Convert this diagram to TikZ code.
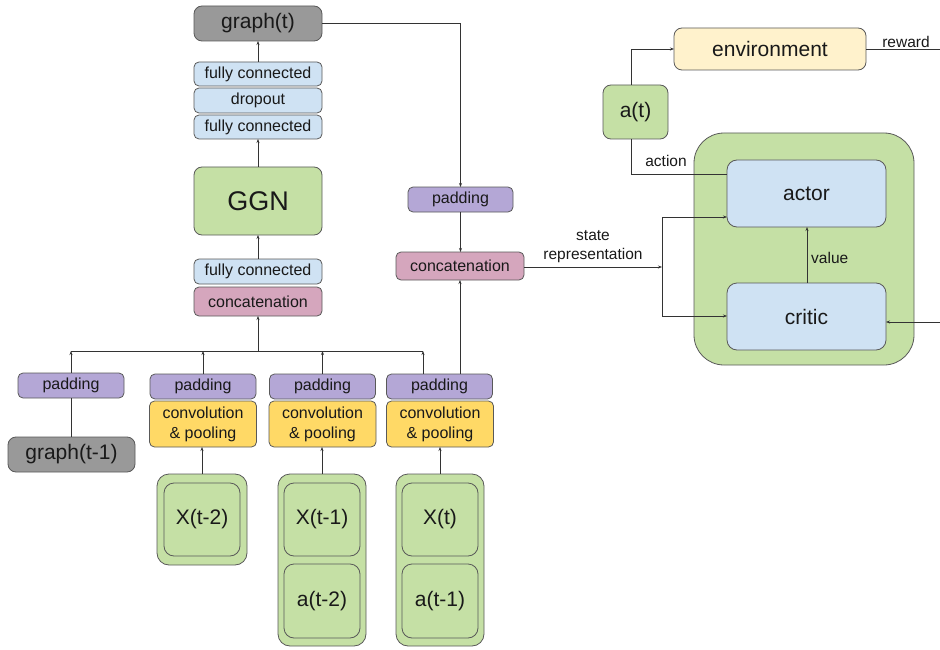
\documentclass[tikz,border=0pt]{standalone}
\usepackage{fontspec}
\setmainfont{Liberation Sans}
\usetikzlibrary{arrows.meta,calc}
\definecolor{bord}{HTML}{595959}
\definecolor{gbox}{HTML}{999999}
\definecolor{bbox}{HTML}{CFE2F3}
\definecolor{pbox}{HTML}{B4A7D6}
\definecolor{kbox}{HTML}{D5A6BD}
\definecolor{ybox}{HTML}{FFD966}
\definecolor{grbox}{HTML}{C5E0A5}
\definecolor{ebox}{HTML}{FFF2CC}
\definecolor{lin}{HTML}{333333}
\tikzset{
  bx/.style={draw=bord, line width=0.8pt, rounded corners=5pt, inner sep=0pt, outer sep=0pt, align=center, text=black!90,
    font=\fontsize{16}{20}\selectfont},
  big/.style={bx, rounded corners=8pt, font=\fontsize{21}{24}\selectfont},
  conn/.style={draw=lin, line width=0.7pt},
  arr/.style={conn, -{Stealth[length=4pt,width=3pt]}},
  lbl/.style={font=\fontsize{15.5}{19}\selectfont, text=black!90, align=center, inner sep=0pt},
}
\begin{document}
\begin{tikzpicture}[x=1pt,y=-1pt]
\useasboundingbox (0,0) rectangle (940,650);
% left column
\node[big, fill=gbox, minimum width=128, minimum height=35] (gt) at (258,23.5) {graph(t)};
\node[bx, fill=bbox, minimum width=128, minimum height=24] (fca) at (258,74) {fully connected};
\node[bx, fill=bbox, minimum width=128, minimum height=25] (drop) at (258,100.5) {dropout};
\node[bx, fill=bbox, minimum width=128, minimum height=24] (fcb) at (258,127) {fully connected};
\node[big, fill=grbox, minimum width=128, minimum height=68, font=\fontsize{27}{30}\selectfont] (ggn) at (258,201) {GGN};
\node[bx, fill=bbox, minimum width=128, minimum height=25] (fcc) at (258,271.5) {fully connected};
\node[bx, fill=kbox, minimum width=128, minimum height=29] (cat1) at (258,301.5) {concatenation};
% right middle column
\node[bx, fill=pbox, minimum width=105, minimum height=25] (padr) at (460.5,199.5) {padding};
\node[bx, fill=kbox, minimum width=128, minimum height=28] (cat2) at (460,266) {concatenation};
% bottom row
\node[bx, fill=pbox, minimum width=106, minimum height=25] (pad1) at (71,385.5) {padding};
\node[bx, fill=pbox, minimum width=106, minimum height=25] (pad2) at (203,386.5) {padding};
\node[bx, fill=pbox, minimum width=106, minimum height=25] (pad3) at (322.5,386.5) {padding};
\node[bx, fill=pbox, minimum width=106, minimum height=25] (pad4) at (439.5,386.5) {padding};
\node[big, fill=gbox, minimum width=127, minimum height=35] (gt1) at (71.5,454.5) {graph(t-1)};
\node[bx, fill=ybox, minimum width=107, minimum height=46] (conv2) at (203,424) {convolution\\\& pooling};
\node[bx, fill=ybox, minimum width=107, minimum height=46] (conv3) at (322.5,424) {convolution\\\& pooling};
\node[bx, fill=ybox, minimum width=107, minimum height=46] (conv4) at (440,424) {convolution\\\& pooling};
% inputs
\node[big, fill=grbox, rounded corners=12pt, minimum width=90, minimum height=91] (g1) at (202,519.5) {};
\node[big, fill=grbox, rounded corners=10pt, minimum width=76, minimum height=73] (x2) at (202,519.5) {X(t-2)};
\node[big, fill=grbox, rounded corners=12pt, minimum width=88, minimum height=172] (g2) at (322,560) {};
\node[big, fill=grbox, rounded corners=10pt, minimum width=76, minimum height=73] (x1) at (322,519.5) {X(t-1)};
\node[big, fill=grbox, rounded corners=10pt, minimum width=76, minimum height=74] (a2) at (322,601) {a(t-2)};
\node[big, fill=grbox, rounded corners=12pt, minimum width=88, minimum height=172] (g3) at (440,560) {};
\node[big, fill=grbox, rounded corners=10pt, minimum width=76, minimum height=73] (x0) at (440,519.5) {X(t)};
\node[big, fill=grbox, rounded corners=10pt, minimum width=76, minimum height=74] (a1) at (440,601) {a(t-1)};
% right side
\node[big, fill=ebox, minimum width=192, minimum height=42] (env) at (770,49) {environment};
\node[big, fill=grbox, minimum width=65, minimum height=54] (at) at (635.5,112) {a(t)};
\node[big, fill=grbox, rounded corners=30pt, minimum width=220, minimum height=232] (ac) at (804,249) {};
\node[big, fill=bbox, rounded corners=10pt, minimum width=159, minimum height=67] (actor) at (806.5,193.5) {actor};
\node[big, fill=bbox, rounded corners=10pt, minimum width=159, minimum height=67] (critic) at (806.5,316.5) {critic};
% coordinates
\coordinate (bus) at (258,351);
\coordinate (busl) at (71,351);
\coordinate (busr) at (423,351);
\coordinate (sr) at (662,267);
\coordinate (rw) at (940,49);
\coordinate (cr) at (940,322);
% connectors left column
\draw[arr] (fca.north) -- (gt.south);
\draw[arr] (ggn.north) -- (fcb.south);
\draw[arr] (fcc.north) -- (ggn.south);
\draw[arr] (bus) -- (cat1.south);
\draw[conn] (busl) -- (busr);
\draw[arr] (pad1.north) -- (busl);
\draw[arr] (pad2.north) -- (pad2.north |- bus);
\draw[arr] (pad3.north) -- (pad3.north |- bus);
\draw[arr] (pad4.north -| busr) -- (busr);
\draw[conn] (gt1.north -| pad1) -- (pad1.south);
\draw[arr] (g1.north) -- (conv2.south -| g1);
\draw[arr] (g2.north) -- (conv3.south -| g2);
\draw[arr] (g3.north) -- (conv4.south -| g3);
% middle
\draw[arr] (gt.east) -- (gt.east -| padr) -- (padr.north);
\draw[arr] (padr.south) -- (cat2.north -| padr);
\draw[arr] (pad4.north -| cat2) -- (cat2.south);
\draw[arr] (cat2.east |- sr) -- (sr);
\draw[arr] (sr) -- (662,217) -- (actor.west |- 0,217);
\draw[arr] (sr) -- (662,316) -- (critic.west |- 0,316);
\node[lbl] (srl) at (593,246.5) {state\\representation};
% right
\draw[arr] (at.north -| 631,0) -- (631,49) -- (env.west);
\draw[conn] (at.south -| 631,0) -- (631,174) -- (actor.west |- 0,174);
\node[lbl] (actl) at (666,161) {action};
\draw[conn] (env.east) -- (rw);
\node[lbl] (rwl) at (906,42) {reward};
\draw[arr] (cr) -- (critic.east |- cr);
\draw[arr] (critic.north -| 807,0) -- (actor.south -| 807,0);
\node[lbl, anchor=west] (vl) at (811,258) {value};
\end{tikzpicture}
\end{document}
